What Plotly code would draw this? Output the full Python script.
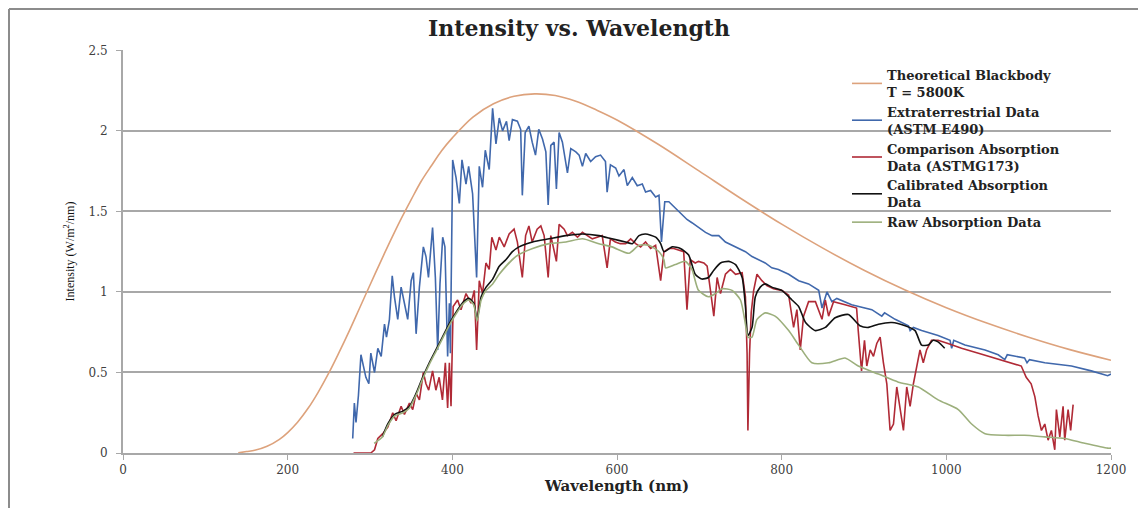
import plotly.graph_objects as go

# ---------------- data ----------------
x_ticks = [0, 200, 400, 600, 800, 1000, 1200]
y_ticks = [0, 0.5, 1, 1.5, 2, 2.5]
y_tick_text = ["0", "0.5", "1", "1.5", "2", "2.5"]

bb_wl = [140, 150, 160, 175, 190, 200, 212, 225, 237, 250, 262, 275, 287, 300, 312, 325,
         337, 350, 362, 375, 387, 400, 425, 450, 475, 500, 525, 550, 575, 600, 650, 700,
         750, 800, 850, 900, 950, 1000, 1050, 1100, 1150, 1200]
bb_val = [0.001, 0.009, 0.017, 0.042, 0.085, 0.127, 0.191, 0.279, 0.377, 0.497, 0.620, 0.760,
          0.896, 1.043, 1.178, 1.320, 1.446, 1.573, 1.686, 1.787, 1.877, 1.957, 2.086, 2.169,
          2.215, 2.230, 2.220, 2.184, 2.130, 2.068, 1.917, 1.750, 1.582, 1.421, 1.272, 1.135,
          1.012, 0.902, 0.805, 0.719, 0.642, 0.576]

e490_wl = [279, 281, 283, 286, 289, 292, 295, 298.6, 301, 305.5, 309.5, 313.6, 317.6, 320, 323.6,
           327, 329.7, 333.7, 337.8, 341.8, 345.8, 350, 352.7, 356, 360, 364.8, 368, 371, 376,
           379.4, 382.2, 385, 388.3, 391, 394.3, 396.4, 397.6, 400.4, 404.5, 408.5, 411.7, 416.6,
           419.8, 424.6, 429.5, 432.7, 436.7, 440, 444.8, 448.9, 453, 457, 461, 465.8, 469, 473,
           479, 483, 485, 488.5, 493, 497, 501, 505, 509.5, 513.6, 516.4, 519.6, 523.6, 526.4,
           529.7, 533.7, 537, 539.8, 543.9, 550, 554, 558, 562, 568, 574, 580, 586, 588, 592,
           598.4, 602.4, 608.5, 612.5, 618.6, 624.6, 630.7, 634.7, 640.8, 646.9, 651, 654, 658,
           663, 671, 679, 685, 691, 699, 707.5, 715.5, 723.6, 731.7, 739.8, 747.9, 756, 764, 772,
           780, 788, 796, 808.5, 820.6, 832.7, 845, 849, 855, 861, 867, 885, 909.5, 921.6, 925,
           937.8, 954, 956, 960, 970, 990, 1004.5, 1006.5, 1009, 1022.6, 1047, 1063, 1071, 1074,
           1095, 1098, 1101, 1119.6, 1152, 1176, 1196, 1200]
e490_val = [0.09, 0.31, 0.19, 0.36, 0.61, 0.54, 0.47, 0.43, 0.62, 0.50, 0.65, 0.60, 0.80, 0.72, 0.83,
            1.10, 0.97, 0.83, 1.03, 0.93, 0.83, 1.07, 1.12, 0.74, 1.03, 1.28, 1.22, 1.09, 1.40,
            1.09, 0.64, 1.05, 1.34, 1.28, 0.60, 0.93, 0.62, 1.82, 1.71, 1.55, 1.82, 1.67,
            1.78, 1.61, 1.09, 1.78, 1.65, 1.88, 1.76, 2.14, 1.92, 2.08, 2.00, 2.06, 1.94, 2.07,
            2.06, 2.01, 1.60, 1.99, 2.03, 1.93, 1.85, 2.01, 1.95, 1.87, 1.54, 1.91, 1.93, 1.64,
            1.99, 1.93, 1.83, 1.74, 1.89, 1.87, 1.85, 1.78, 1.86, 1.81, 1.84, 1.85, 1.81, 1.62, 1.79,
            1.77, 1.72, 1.76, 1.66, 1.71, 1.66, 1.67, 1.62, 1.63, 1.59, 1.60, 1.31, 1.56,
            1.56, 1.52, 1.48, 1.45, 1.43, 1.40, 1.37, 1.35, 1.35, 1.31, 1.29, 1.27, 1.25, 1.22, 1.20,
            1.18, 1.15, 1.14, 1.11, 1.07, 1.05, 1.01, 0.90, 1.00, 0.94, 0.96, 0.92, 0.89, 0.85, 0.87,
            0.83, 0.79, 0.76, 0.78, 0.76, 0.73, 0.70, 0.65, 0.70, 0.67, 0.64, 0.61, 0.58, 0.61,
            0.59, 0.56, 0.58, 0.56, 0.54, 0.51, 0.48, 0.49]

g173_wl = [280, 301, 305.5, 309.5, 315.5, 321.6, 327.6, 331.7, 337.8, 341.8, 347.9, 351.9, 356, 360,
           364.8, 368, 371.3, 376, 380, 384, 388, 391.5, 394.3, 396.4, 398.4, 401, 406.4, 410.5,
           416.6, 422.7, 426.7, 429.5, 432.7, 436.7, 440.8, 444.8, 448, 453, 457, 463, 469, 475,
           479, 485, 489, 493, 497, 503, 507.5, 511.5, 516.4, 519.6, 526.4, 529.7, 535.8, 539.8,
           545.8, 552, 558, 564, 570, 576, 582, 588, 592, 598, 604, 610.5, 616.6, 622.7, 628.7,
           634.7, 640.8, 646.9, 653, 657, 663, 669, 675, 681, 685, 689, 695, 699, 705.5, 709.5,
           713.5, 717.6, 721.6, 725.7, 731.7, 737.8, 744, 752, 756, 758, 759, 761, 763, 766, 770,
           776, 782, 790, 800, 808.5, 814.5, 818.5, 822.6, 826.6, 832.7, 841, 849, 853, 857, 863,
           877, 891, 893, 897, 900.6, 903.4, 907.5, 911.5, 915.5, 919.6, 923.6, 927.7, 931.7,
           935.8, 939.8, 943.8, 947.9, 951.9, 956, 960, 964, 968, 972, 976, 982, 990, 1002,
           1018.5, 1039, 1059, 1079, 1091, 1097, 1103, 1107.5, 1111.5, 1115.5, 1119.6, 1123.6,
           1127.6, 1131.7, 1133.7, 1137.8, 1141.8, 1143.8, 1147.9, 1151, 1154]
g173_val = [0.0, 0.0, 0.02, 0.09, 0.12, 0.16, 0.25, 0.20, 0.29, 0.24, 0.31, 0.27, 0.37, 0.33,
            0.50, 0.43, 0.39, 0.51, 0.39, 0.47, 0.33, 0.56, 0.28, 0.56, 0.29, 0.91, 0.95, 0.89,
            0.99, 0.93, 1.01, 0.64, 1.07, 0.99, 1.18, 1.14, 1.34, 1.26, 1.34, 1.28, 1.36, 1.39,
            1.31, 1.09, 1.35, 1.41, 1.31, 1.39, 1.41, 1.35, 1.09, 1.35, 1.19, 1.42, 1.39, 1.35,
            1.37, 1.34, 1.37, 1.35, 1.33, 1.34, 1.35, 1.15, 1.33, 1.31, 1.30, 1.30, 1.33, 1.30, 1.28,
            1.31, 1.27, 1.29, 1.07, 1.25, 1.27, 1.27, 1.26, 1.25, 0.89, 1.20, 1.18, 1.19, 1.18, 1.16,
            1.01, 0.85, 1.09, 0.99, 1.11, 1.14, 1.11, 1.12, 0.97, 0.62, 0.14, 0.62, 0.87, 1.01, 1.11,
            1.07, 1.04, 1.02, 1.01, 0.98, 0.78, 0.89, 0.64, 0.85, 0.94, 0.94, 0.83, 0.95, 0.85, 0.94,
            0.92, 0.90, 0.76, 0.51, 0.70, 0.54, 0.64, 0.60, 0.68, 0.72, 0.56, 0.43, 0.14,
            0.18, 0.41, 0.29, 0.14, 0.41, 0.29, 0.43, 0.54, 0.64, 0.56, 0.64, 0.70, 0.70, 0.68,
            0.65, 0.62, 0.59, 0.56, 0.54, 0.47, 0.43, 0.35, 0.23, 0.14, 0.18, 0.08,
            0.14, 0.02, 0.27, 0.10, 0.29, 0.08, 0.27, 0.14, 0.30]

cal_wl = [315, 321.6, 330, 340, 348, 356, 364, 372, 380, 388, 396, 404, 412, 420, 426, 430, 435,
          441, 449, 457, 465, 473, 481, 497.5, 517.6, 537.8, 558, 578, 594, 610.5, 618.6, 626.7,
          634.7, 647, 653, 657, 667, 677, 687, 695, 703, 711, 717.6, 725.7, 735.8, 744, 752, 756,
          759, 764, 768, 774, 780, 788, 800, 812.5, 820.6, 829, 841, 853, 865, 881, 895, 905.5,
          917.6, 934, 950, 962, 970, 978, 984, 990, 998]
cal_val = [0.10, 0.18, 0.24, 0.26, 0.29, 0.37, 0.47, 0.56, 0.64, 0.72, 0.80, 0.87, 0.93, 0.96, 0.93,
           0.83, 0.97, 1.03, 1.08, 1.16, 1.20, 1.25, 1.28, 1.31, 1.33, 1.35, 1.36, 1.35, 1.33, 1.31,
           1.30, 1.35, 1.36, 1.34, 1.30, 1.25, 1.28, 1.27, 1.23, 1.11, 1.08, 1.09, 1.135, 1.18, 1.19,
           1.17, 1.09, 0.91, 0.73, 0.78, 0.97, 1.03, 1.05, 1.03, 1.01, 0.95, 0.91, 0.81, 0.76, 0.78,
           0.84, 0.86, 0.79, 0.78, 0.80, 0.81, 0.79, 0.76, 0.67, 0.67, 0.70, 0.69, 0.65]

raw_wl = [305, 315, 321.6, 330, 340, 348, 356, 364, 372, 380, 388, 396, 404, 412, 420, 426, 430,
          435, 441, 449, 457, 477, 497.5, 517.6, 538, 558, 578, 594, 614.6, 626.7, 638.8, 651,
          657, 659, 671, 683, 691, 699, 711, 719.6, 727.7, 739.8, 750, 756, 759, 764, 770, 780,
          792, 808.5, 820.6, 836.7, 857, 877, 893, 917.6, 941.8, 966, 990, 1014.5, 1030.7, 1047,
          1071, 1095, 1119.6, 1143.8, 1168, 1196, 1200]
raw_val = [0.06, 0.10, 0.17, 0.23, 0.25, 0.28, 0.36, 0.46, 0.55, 0.63, 0.71, 0.79, 0.86, 0.92,
           0.95, 0.92, 0.82, 0.95, 1.01, 1.05, 1.11, 1.22, 1.27, 1.30, 1.31, 1.33, 1.30, 1.28, 1.24,
           1.29, 1.29, 1.25, 1.20, 1.15, 1.17, 1.19, 1.14, 1.01, 0.97, 0.99, 1.02, 1.01, 0.95, 0.80,
           0.72, 0.72, 0.83, 0.87, 0.85, 0.76, 0.67, 0.56, 0.56, 0.59, 0.54, 0.49, 0.44, 0.41, 0.33,
           0.27, 0.18, 0.12, 0.11, 0.11, 0.10, 0.09, 0.06, 0.03, 0.03]

names = ["Theoretical Blackbody<br>T = 5800K",
         "Extraterrestrial Data<br>(ASTM E490)",
         "Comparison Absorption<br>Data (ASTMG173)",
         "Calibrated Absorption<br>Data",
         "Raw Absorption Data"]

# ---------------- figure ----------------
SERIF = "DejaVu Serif, Liberation Serif, serif"
fig = go.Figure()
fig.add_trace(go.Scatter(x=bb_wl, y=bb_val, mode="lines", name=names[0],
                         line=dict(color="#DDA27C", width=1.6, shape="spline")))
fig.add_trace(go.Scatter(x=e490_wl, y=e490_val, mode="lines", name=names[1],
                         line=dict(color="#4068AC", width=1.6)))
fig.add_trace(go.Scatter(x=g173_wl, y=g173_val, mode="lines", name=names[2],
                         line=dict(color="#B02A36", width=1.6)))
fig.add_trace(go.Scatter(x=cal_wl, y=cal_val, mode="lines", name=names[3],
                         line=dict(color="#111111", width=1.6, shape="spline", smoothing=0.6)))
fig.add_trace(go.Scatter(x=raw_wl, y=raw_val, mode="lines", name=names[4],
                         line=dict(color="#9CAF7C", width=1.6, shape="spline", smoothing=0.6)))

W, H = 1138, 500          # page body has an 8px margin, so the figure fills the window
L, T, R, B = 115, 42, 35, 55
pw, ph = W - L - R, H - T - B

grey = "#A8A8A8"
fig.update_layout(
    width=W, height=H,
    margin=dict(l=L, r=R, t=T, b=B),
    plot_bgcolor="white", paper_bgcolor="white",
    font=dict(family=SERIF, color="#333333"),
    title=dict(text="<b>Intensity vs. Wavelength</b>", x=571 / W, xanchor="center",
               y=1 - 20 / H, yanchor="middle", font=dict(size=22, color="#222222", family=SERIF)),
    legend=dict(x=(839 - L) / pw, y=(H - B - 52) / ph, xanchor="left", yanchor="top",
                bgcolor="rgba(0,0,0,0)", tracegroupgap=0, itemwidth=30,
                font=dict(size=13, color="#222222", family="DejaVu Serif, serif", weight="bold")),
    showlegend=True,
)
fig.update_xaxes(range=[0, 1200], tickvals=x_ticks, showgrid=False, zeroline=False,
                 showline=True, linecolor=grey, linewidth=2, ticks="outside", ticklen=5,
                 tickcolor=grey, tickfont=dict(size=12, color="#404040", family=SERIF),
                 title=dict(text="<b>Wavelength (nm)</b>", standoff=2,
                            font=dict(size=15, color="#222222", family=SERIF)))
fig.update_yaxes(range=[0, 2.5025], tickvals=y_ticks, ticktext=y_tick_text, showgrid=True,
                 gridcolor=grey, gridwidth=2, zeroline=False, showline=True, linecolor=grey,
                 linewidth=2, ticks="outside", ticklen=5, tickcolor=grey, ticklabelstandoff=6,
                 tickfont=dict(size=12, color="#404040", family=SERIF),
                 title=dict(text="Intensity (W/m<sup>2</sup>/nm)", standoff=11,
                            font=dict(size=12, color="#111111", family="Liberation Serif, serif")))

# outer chart frame (left and top edges visible in the reference)
fx = (1 - L) / pw
fy = (H - B - 1) / ph
fig.add_shape(type="line", xref="paper", yref="paper", x0=fx, x1=fx, y0=-0.2, y1=fy,
              line=dict(color="#8C8C8C", width=2))
fig.add_shape(type="line", xref="paper", yref="paper", x0=fx, x1=1.1, y0=fy, y1=fy,
              line=dict(color="#8C8C8C", width=2))

fig.write_html("out.html")
